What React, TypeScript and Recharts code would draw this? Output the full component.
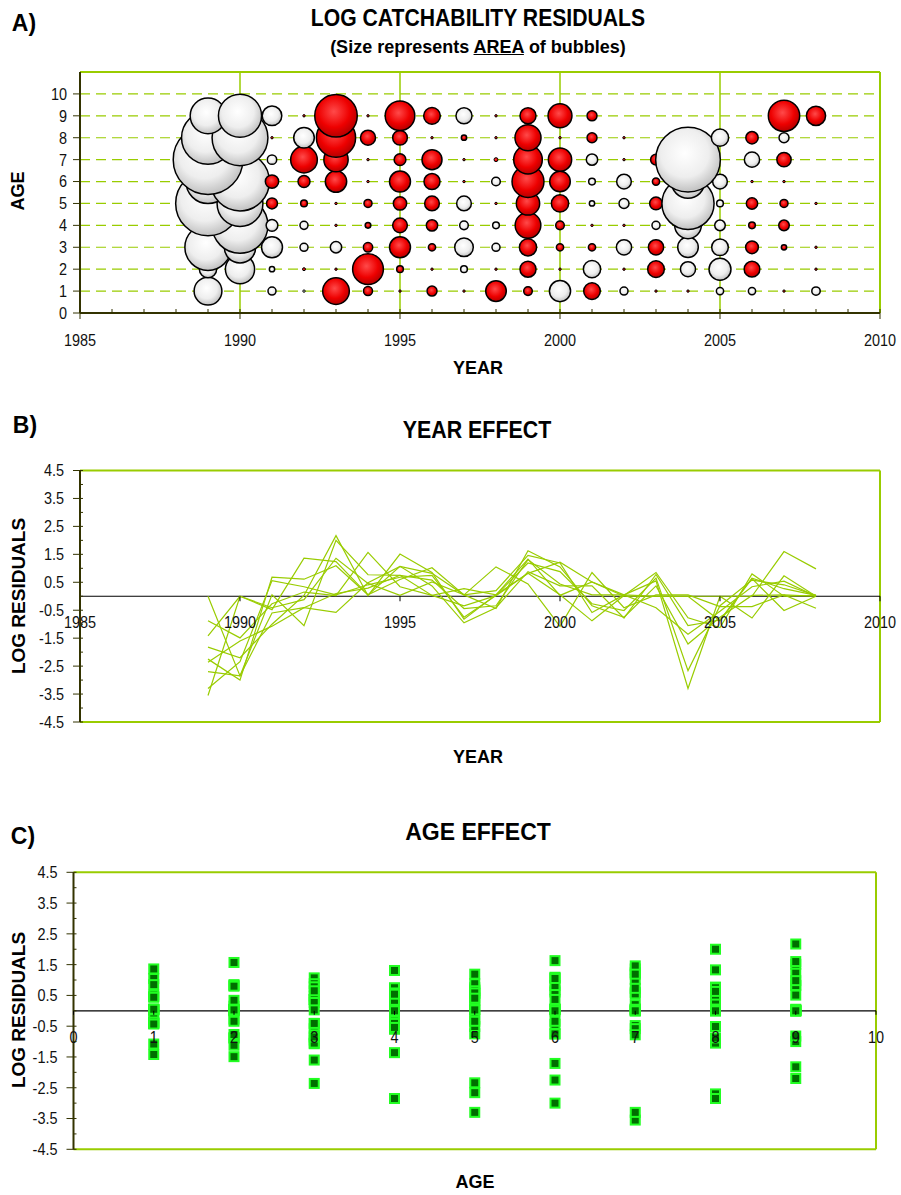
import React from "react";
import {
  ScatterChart,
  Scatter,
  LineChart,
  Line,
  XAxis,
  YAxis,
  ZAxis,
  CartesianGrid,
  ReferenceLine,
} from "recharts";

// residuals by age, one value per year 1989..2008
const years = [1989, 1990, 1991, 1992, 1993, 1994, 1995, 1996, 1997, 1998, 1999, 2000, 2001, 2002, 2003, 2004, 2005, 2006, 2007, 2008];
const ages = [1, 2, 3, 4, 5, 6, 7, 8, 9];

const age1 = [-1.42, 0, -0.41, -0.12, 1.36, 0.46, 0.03, 0.51, 0.05, 1.05, 0.44, -1.08, 0.85, -0.41, 0.05, 0.05, -0.37, -0.37, 0.05, -0.43];
const age2 = [-0.88, -1.49, -0.27, 0.15, 0.02, 1.57, 0.34, 0.03, -0.34, 0.02, 0.82, 0.05, -0.88, 0.03, 0.85, -0.77, -1.12, 0.8, 0, 0.03];
const age3 = [-2.36, -1.6, -1.07, -0.41, -0.58, 0.48, 1.07, 0.37, -0.95, -0.41, 0.88, 0.37, 0.37, -0.78, 0.78, -1.05, -0.85, 0.65, 0.27, 0.03];
const age4 = [0, -2.85, -0.6, -0.41, 0.1, 0.29, 0.75, 0.58, -0.44, -0.34, 1.31, 0.44, 0.05, 0.05, -0.41, -1.36, -0.54, 0.34, 0.54, 0];
const age5 = [-3.3, -2.34, 0.56, 0.34, 0.05, 0.41, 0.68, 0.75, -0.75, 0.03, 1.19, 0.88, -0.27, -0.51, 0.65, -2.66, -0.34, 0.58, 0.41, 0.03];
const age6 = [-2.25, -3.0, 0.68, 0.61, 1.09, 0.05, 1.07, 0.82, 0.05, -0.44, 1.63, 1.05, -0.34, -0.75, 0.37, -1.71, -0.75, 0.03, 0.05, 0];
const age7 = [-3.55, 0, -0.48, 1.36, 1.24, 0.05, 0.6, 1.02, 0.05, 0.2, 1.46, 1.19, -0.58, 0.05, 0.55, -3.3, 0, -0.78, 0.73, 0];
const age8 = [-2.7, -2.85, 0.05, -1.05, 2.0, 0.77, 0.75, 0.03, 0.27, 0.05, 1.33, 0.03, 0.51, 0.05, 0, 0, -0.88, 0.63, -0.51, 0];
const age9 = [-1.82, -2.2, -1.0, 0.03, 2.17, 0.02, 1.51, 0.85, -0.82, 0.05, 0.82, 1.22, 0.51, 0, 0, 0, 0, 0, 1.6, 0.98];
const residualsByAge = [age1, age2, age3, age4, age5, age6, age7, age8, age9];

const yearTicks = [1985, 1986, 1987, 1988, 1989, 1990, 1991, 1992, 1993, 1994, 1995, 1996, 1997, 1998, 1999, 2000, 2001, 2002, 2003, 2004, 2005, 2006, 2007, 2008, 2009, 2010];
const yearLabels = [1985, 1990, 1995, 2000, 2005, 2010];
const ageTicks = [0, 1, 2, 3, 4, 5, 6, 7, 8, 9, 10];
const residTicks = [-4.5, -4, -3.5, -3, -2.5, -2, -1.5, -1, -0.5, 0, 0.5, 1, 1.5, 2, 2.5, 3, 3.5, 4, 4.5];
const residLabels = [-4.5, -3.5, -2.5, -1.5, -0.5, 0.5, 1.5, 2.5, 3.5, 4.5];

const FONT = '"Liberation Sans Narrow", "Arial Narrow", "Liberation Sans", Arial, sans-serif';
const GREEN = "#99CC00";
const AXIS = "#333300";
const NARROW = 0.85;

// tables built from the arrays above
const bubbles = ages
  .flatMap((age, i) =>
    years.map((year, j) => ({ year, age, res: residualsByAge[i][j], area: residualsByAge[i][j] ** 2 }))
  )
  .filter((d) => d.res !== 0);

const yearRows = years.map((year, j) => {
  const row: Record<string, number> = { year };
  ages.forEach((age, i) => (row["a" + age] = residualsByAge[i][j]));
  return row;
});

const agePoints = ages.flatMap((age, i) => years.map((_, j) => ({ age, res: residualsByAge[i][j] })));
const ageTickRows = ageTicks.map((age) => ({ age, res: 0 }));

const NarrowText = ({ x, y, anchor, children }: any) => (
  <text
    transform={`translate(${x},${y}) scale(${NARROW},1)`}
    textAnchor={anchor}
    dominantBaseline='central'
    fontSize={17}
    fontFamily={FONT}
    fill='#111'
  >
    {children}
  </text>
);

const Bubble = (props: any) => {
  const { cx, cy, width, payload } = props;
  const r = Math.max(width / 2, 1.2);
  const pos = payload.res > 0;
  return (
    <circle
      cx={cx}
      cy={cy}
      r={r}
      fill={pos ? "url(#gradRed)" : "url(#gradWhite)"}
      stroke='#000'
      strokeWidth={r < 2.5 ? 1 : 1.5}
    />
  );
};

const Square = (props: any) => {
  const { cx, cy } = props;
  return <rect x={cx - 4.5} y={cy - 4.5} width={9} height={9} fill='#006e00' stroke='#22ff22' strokeWidth={2} />;
};

// tick mark + label sitting on the zero line of panel C
const AgeTickC = (props: any) => {
  const { cx, cy, payload } = props;
  return (
    <g>
      <line x1={cx} x2={cx} y1={cy} y2={cy + 4} stroke='#000' strokeWidth={1} />
      <NarrowText x={cx} y={cy + 26} anchor='middle'>
        {payload.age}
      </NarrowText>
    </g>
  );
};

const YearTickA = (props: any) => {
  const { x, y, payload } = props;
  const major = yearLabels.includes(payload.value);
  return (
    <g>
      <line x1={x} x2={x} y1={y - 4} y2={major ? y + 6 : y} stroke={AXIS} strokeWidth={1} />
      {major && (
        <NarrowText x={x} y={y + 27} anchor='middle'>
          {payload.value}
        </NarrowText>
      )}
    </g>
  );
};

const AgeTickA = (props: any) => {
  const { x, y, payload } = props;
  return (
    <g>
      <line x1={x - 7} x2={x} y1={y} y2={y} stroke={AXIS} strokeWidth={1} />
      <NarrowText x={x - 13} y={y} anchor='end'>
        {payload.value}
      </NarrowText>
    </g>
  );
};

const ResidTick = (props: any) => {
  const { x, y, payload } = props;
  const major = residLabels.includes(payload.value);
  return (
    <g>
      <line x1={major ? x - 7 : x} x2={x + 3} y1={y} y2={y} stroke={AXIS} strokeWidth={1} />
      {major && (
        <NarrowText x={x - 16} y={y} anchor='end'>
          {payload.value.toFixed(1)}
        </NarrowText>
      )}
    </g>
  );
};

// tick label hung below a short tick segment on the zero line
const ZeroLineLabel = (props: any) => {
  const { viewBox, value, gap } = props;
  if (!viewBox) return null;
  return (
    <NarrowText x={viewBox.x} y={viewBox.y + viewBox.height + gap} anchor='middle'>
      {value}
    </NarrowText>
  );
};

const Title = ({ x, y, size, children, rotate, squeeze = 1 }: any) => (
  <div
    style={{
      position: "absolute",
      left: x,
      top: y,
      transform: `translate(-50%, -50%)${rotate ? " rotate(-90deg)" : ""} scaleX(${squeeze})`,
      fontFamily: FONT,
      fontWeight: "bold",
      fontSize: size,
      whiteSpace: "nowrap",
      color: "#000",
      lineHeight: 1,
    }}
  >
    {children}
  </div>
);

const App = () => {
  return (
    <div style={{ position: "absolute", left: 0, top: 0, width: 901, height: 1195, background: "#fff" }}>
      <svg width={0} height={0} style={{ position: "absolute" }}>
        <defs>
          <radialGradient id='gradRed' cx='45%' cy='40%' r='62%'>
            <stop offset='0%' stopColor='#ff4a4a' />
            <stop offset='60%' stopColor='#ee0000' />
            <stop offset='100%' stopColor='#b00000' />
          </radialGradient>
          <radialGradient id='gradWhite' cx='45%' cy='40%' r='62%'>
            <stop offset='0%' stopColor='#ffffff' />
            <stop offset='60%' stopColor='#eeeeee' />
            <stop offset='100%' stopColor='#bdbdbd' />
          </radialGradient>
        </defs>
      </svg>

      {/* A) bubbles */}
      <Title x={24} y={23} size={23}>A)</Title>
      <Title x={478} y={18} size={23} squeeze={0.92}>LOG CATCHABILITY RESIDUALS</Title>
      <Title x={478} y={47} size={18}>
        (Size represents <span style={{ textDecoration: "underline" }}>AREA</span> of bubbles)
      </Title>
      <Title x={18} y={191} size={18} rotate>AGE</Title>
      <Title x={478} y={368} size={18}>YEAR</Title>
      <div style={{ position: "absolute", left: 0, top: 0 }}>
        <ScatterChart width={901} height={400} margin={{ top: 72, right: 21, bottom: 57, left: 0 }}>
          <CartesianGrid vertical={false} stroke={GREEN} strokeDasharray='10 6' strokeWidth={1.2} />
          <CartesianGrid horizontal={false} verticalValues={yearLabels.slice(1, -1)} stroke={GREEN} strokeWidth={1.5} />
          <XAxis
            type='number'
            dataKey='year'
            domain={[1985, 2010]}
            ticks={yearTicks}
            interval={0}
            tickSize={0}
            tickMargin={0}
            tickLine={false}
            tick={<YearTickA />}
            axisLine={{ stroke: AXIS, strokeWidth: 2 }}
            height={30}
          />
          <YAxis
            type='number'
            dataKey='age'
            domain={[0, 11]}
            ticks={ageTicks}
            interval={0}
            width={80}
            tickSize={0}
            tickMargin={0}
            tickLine={false}
            tick={<AgeTickA />}
            axisLine={{ stroke: AXIS, strokeWidth: 2 }}
          />
          <ZAxis type='number' dataKey='area' domain={[0, 16]} range={[0, 16 * Math.PI * 96]} />
          <ReferenceLine y={11} stroke={GREEN} strokeWidth={2} />
          <ReferenceLine x={2010} stroke={GREEN} strokeWidth={2} />
          <Scatter data={bubbles} shape={<Bubble />} isAnimationActive={false} />
        </ScatterChart>
      </div>

      {/* B) year effect */}
      <Title x={25} y={425} size={23}>B)</Title>
      <Title x={477} y={430} size={23} squeeze={0.93}>YEAR EFFECT</Title>
      <Title x={18} y={596} size={19} rotate>LOG RESIDUALS</Title>
      <Title x={478} y={757} size={18}>YEAR</Title>
      <div style={{ position: "absolute", left: 0, top: 400 }}>
        <LineChart width={901} height={400} data={yearRows} margin={{ top: 70.5, right: 21, bottom: 78, left: 0 }}>
          <XAxis type='number' dataKey='year' domain={[1985, 2010]} hide />
          <YAxis
            type='number'
            domain={[-4.5, 4.5]}
            ticks={residTicks}
            interval={0}
            width={80}
            tickSize={0}
            tickMargin={0}
            tickLine={false}
            tick={<ResidTick />}
            axisLine={{ stroke: AXIS, strokeWidth: 2 }}
          />
          <ReferenceLine y={4.5} stroke={GREEN} strokeWidth={2} />
          <ReferenceLine y={-4.5} stroke={GREEN} strokeWidth={2} />
          <ReferenceLine x={2010} stroke={GREEN} strokeWidth={2} />
          <ReferenceLine y={0} stroke='#000' strokeWidth={1.2} />
          {ages.map((age) => (
            <Line
              key={age}
              type='linear'
              dataKey={"a" + age}
              stroke={GREEN}
              strokeWidth={1.2}
              dot={false}
              isAnimationActive={false}
            />
          ))}
          {yearLabels.map((yr) => (
            <ReferenceLine
              key={yr}
              segment={[{ x: yr, y: 0 }, { x: yr, y: -0.18 }]}
              stroke='#000'
              label={<ZeroLineLabel value={yr} gap={21} />}
            />
          ))}
        </LineChart>
      </div>

      {/* C) age effect */}
      <Title x={23} y={836} size={23}>C)</Title>
      <Title x={478} y={832} size={23}>AGE EFFECT</Title>
      <Title x={18} y={1010} size={19} rotate>LOG RESIDUALS</Title>
      <Title x={475} y={1182} size={18}>AGE</Title>
      <div style={{ position: "absolute", left: 0, top: 800 }}>
        <ScatterChart width={901} height={395} margin={{ top: 72.3, right: 25, bottom: 45.7, left: 0 }}>
          <XAxis type='number' dataKey='age' domain={[0, 10]} hide />
          <YAxis
            type='number'
            dataKey='res'
            domain={[-4.5, 4.5]}
            ticks={residTicks}
            interval={0}
            width={73.5}
            tickSize={0}
            tickMargin={0}
            tickLine={false}
            tick={<ResidTick />}
            axisLine={{ stroke: AXIS, strokeWidth: 2 }}
          />
          <ReferenceLine y={4.5} stroke={GREEN} strokeWidth={2} />
          <ReferenceLine y={-4.5} stroke={GREEN} strokeWidth={2} />
          <ReferenceLine x={10} stroke={GREEN} strokeWidth={2} />
          <ReferenceLine y={0} stroke='#000' strokeWidth={1.2} />
          <Scatter data={agePoints} shape={<Square />} isAnimationActive={false} />
          <Scatter data={ageTickRows} shape={<AgeTickC />} isAnimationActive={false} />
        </ScatterChart>
      </div>
    </div>
  );
};

export default App;
